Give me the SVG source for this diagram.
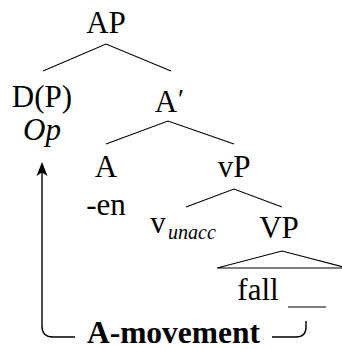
<svg xmlns="http://www.w3.org/2000/svg" width="342" height="349" viewBox="0 0 342 349">
<style>
text{font-family:"Liberation Serif","Times New Roman",serif;font-size:31px;fill:#000;text-anchor:middle}
.it{font-style:italic}
.sub{font-size:20px;font-style:italic;text-anchor:start}
.b{font-weight:bold;font-size:31.5px}
.ln{stroke:#000;stroke-width:1.1;fill:none}
.mv{stroke:#000;stroke-width:1.4;fill:none}
</style>
<g id="AP"><text x="106" y="33">AP</text></g>
<g id="DP"><text x="42" y="107">D(P)</text><text class="it" x="42" y="140">Op</text></g>
<g id="Abar"><text x="166" y="112">A</text><text x="181" y="108" style="font-size:28px">′</text></g>
<g id="A"><text x="106" y="177">A</text><text x="106" y="215">-en</text></g>
<g id="vP"><text x="234" y="177">vP</text></g>
<g id="v"><text x="158" y="233">v</text><text class="sub" x="168" y="239">unacc</text></g>
<g id="VP"><text x="279" y="238">VP</text></g>
<g id="fall"><text x="258" y="300">fall</text><line class="ln" x1="288" y1="307" x2="326" y2="307"/></g>
<g id="label"><text class="b" x="173.5" y="343">A-movement</text></g>
<g id="connectors">
<polyline class="ln" points="43,71 106,44 171,71"/>
<polyline class="ln" points="106,144 168,121 234,144"/>
<polyline class="ln" points="186,207 234,189 282,207"/>
<polygon class="ln" points="217,268 282,251 347,268"/>
<path class="mv" d="M42,172 V326 Q42,337 53,337 H75"/>
<path d="M42,162 L47.5,176 L42,172.5 L36.5,176 Z" fill="#000"/>
<path class="mv" d="M272,337 H296 Q306,337 306,327 V321"/>
</g>
</svg>
